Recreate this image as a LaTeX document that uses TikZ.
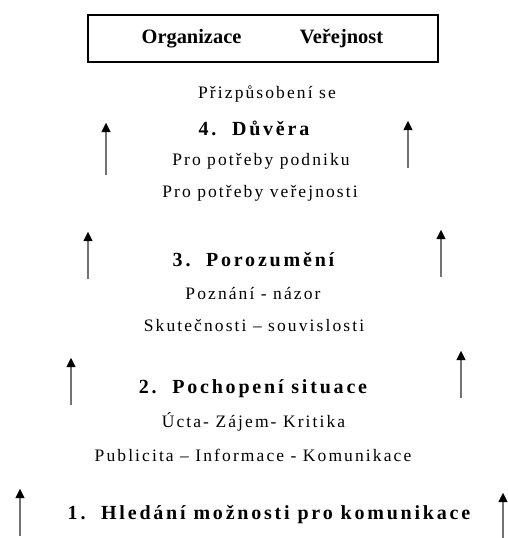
\documentclass[tikz,border=0pt]{standalone}
\usepackage{fontspec}
\setmainfont{Liberation Serif}
\newfontfamily\subfont[LetterSpace=12]{Liberation Serif}
\newfontfamily\titlefont[LetterSpace=14]{Liberation Serif}
\usetikzlibrary{arrows.meta}
\begin{document}
\begin{tikzpicture}[x=1pt,y=-1pt,
  head/.style={font=\fontsize{20.4}{24}\selectfont\bfseries, inner sep=0pt, anchor=base},
  sub/.style={font=\subfont\fontsize{17.5}{20}\selectfont, inner sep=0pt},
  ttl/.style={font=\titlefont\fontsize{20}{24}\selectfont\bfseries, inner sep=0pt},
  uparrow/.style={draw=black!55, line width=1.8pt, -{Triangle[length=9pt,width=9pt,color=black,line width=0.4pt]}}]
\useasboundingbox (0,0) rectangle (507,538);
\node[draw, line width=1.2pt, minimum width=350pt, minimum height=47pt, inner sep=0pt] (box) at (263,38.5) {};
\node[head] (org) at (191.5,43) {Organizace};
\node[head] (ver) at (341.5,43) {Veřejnost};

\node[sub] (p4a) at (267,94) {Přizpůsobení se};
\node[ttl] (t4) at (254,128) {4.\ \ Důvěra};
\node[sub] (p4b) at (261,161) {Pro potřeby podniku};
\node[sub] (p4c) at (260,193) {Pro potřeby veřejnosti};

\node[ttl] (t3) at (253.5,260) {3.\ \ Porozumění};
\node[sub] (p3a) at (253,293) {Poznání - názor};
\node[sub] (p3b) at (254,325) {Skutečnosti – souvislosti};

\node[ttl] (t2) at (253,389) {2.\ \ Pochopení situace};
\node[sub] (p2a) at (253.5,422) {Úcta- Zájem- Kritika};
\node[sub] (p2b) at (253,455) {Publicita – Informace - Komunikace};

\node[ttl] (t1) at (269,515) {1.\ \ Hledání možnosti pro komunikace};

\coordinate (a4ls) at (106,175); \coordinate (a4le) at (106,123);
\coordinate (a4rs) at (408,168); \coordinate (a4re) at (408,121);
\coordinate (a3ls) at (88,279); \coordinate (a3le) at (88,232);
\coordinate (a3rs) at (441,277); \coordinate (a3re) at (441,230);
\coordinate (a2ls) at (71,405); \coordinate (a2le) at (71,358);
\coordinate (a2rs) at (461,398); \coordinate (a2re) at (461,351);
\coordinate (a1ls) at (20,536); \coordinate (a1le) at (20,489);
\coordinate (a1rs) at (503,540); \coordinate (a1re) at (503,493);
\foreach \n in {4,3,2,1}{
  \draw[uparrow] (a\n ls) -- (a\n le);
  \draw[uparrow] (a\n rs) -- (a\n re);
}
\end{tikzpicture}
\end{document}
